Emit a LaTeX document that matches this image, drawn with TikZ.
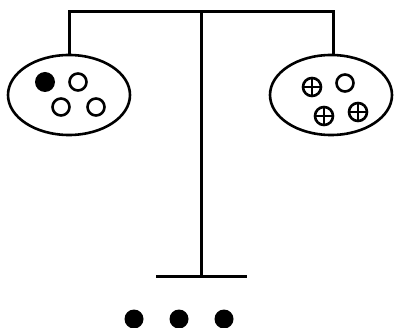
\documentclass[tikz,border=0pt]{standalone}
\usetikzlibrary{shapes.geometric}
\begin{document}
\begin{tikzpicture}[x=1pt,y=-1pt,
  bar/.style={line width=3pt},
  pan/.style={draw,ellipse,minimum width=122pt,minimum height=80pt,inner sep=0pt,line width=2.6pt},
  openc/.style={draw,circle,minimum size=17pt,inner sep=0pt,line width=2.6pt},
  fullc/.style={fill=black,circle,minimum size=20pt,inner sep=0pt},
  crossc/.style={draw,circle,minimum size=18pt,inner sep=0pt,line width=2.6pt,
    path picture={\draw[line width=2pt] (path picture bounding box.north) -- (path picture bounding box.south)
      (path picture bounding box.west) -- (path picture bounding box.east);}},
  dotc/.style={fill=black,circle,minimum size=19pt,inner sep=0pt}]
\useasboundingbox (0,0) rectangle (395,328);
\node[pan] (L) at (69,95) {};
\node[pan] (R) at (331,95) {};
\coordinate (tl) at (69,12);
\coordinate (tr) at (333,12);
\coordinate (tc) at (201,12);
\coordinate (bc) at (201,276);
\coordinate (bl) at (156,276);
\coordinate (br) at (247,276);
\draw[bar] (L.north) -- (tl) -- (tr) -- (R.north -| tr);
\draw[bar] (tc) -- (bc);
\draw[bar] (bl) -- (br);
\node[fullc] (l1) at (45,82) {};
\node[openc] (l2) at (78,82) {};
\node[openc] (l3) at (61,107) {};
\node[openc] (l4) at (96,107) {};
\node[crossc] (r1) at (312,87) {};
\node[openc] (r2) at (345,83) {};
\node[crossc] (r3) at (324,116) {};
\node[crossc] (r4) at (358,112) {};
\node[dotc] (d1) at (134,319) {};
\node[dotc] (d2) at (179,319) {};
\node[dotc] (d3) at (224,319) {};
\end{tikzpicture}
\end{document}
